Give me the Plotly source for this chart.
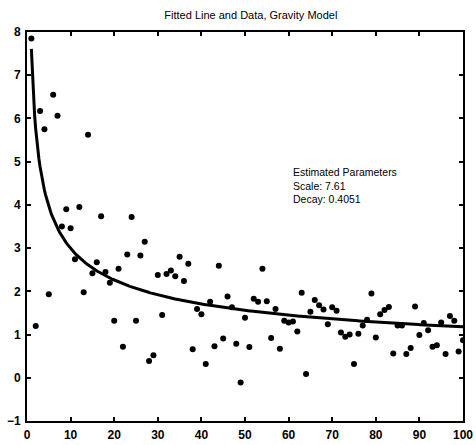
import numpy as np
import plotly.graph_objects as go

# Observed data (distance index vs value)
x_data = list(range(1, 101))
y_data = [
    7.85, 1.20, 6.17, 5.75, 1.93, 6.55, 6.06, 3.50, 3.90, 3.46,
    2.74, 3.95, 1.98, 5.62, 2.42, 2.67, 3.74, 2.45, 2.20, 1.32,
    2.52, 0.72, 2.85, 3.72, 1.32, 2.83, 3.15, 0.39, 0.52, 2.38,
    1.45, 2.40, 2.48, 2.35, 2.80, 2.24, 2.64, 0.66, 1.59, 1.47,
    0.32, 1.76, 0.73, 2.59, 0.91, 1.88, 1.63, 0.79, -0.11, 1.39,
    0.71, 1.83, 1.76, 2.52, 1.77, 0.92, 1.59, 0.67, 1.32, 1.28,
    1.30, 1.07, 1.97, 0.09, 1.53, 1.80, 1.68, 1.58, 1.24, 1.63,
    1.55, 1.05, 0.95, 1.00, 0.32, 1.02, 1.21, 1.34, 1.95, 0.93,
    1.47, 1.57, 1.64, 0.56, 1.21, 1.21, 0.55, 0.69, 1.65, 0.99,
    1.27, 1.10, 0.72, 0.75, 1.28, 0.55, 1.43, 1.32, 0.61, 0.87,
]

# Fitted gravity model parameters
scale = 7.61
decay = 0.4051

x_tick_vals = [0, 10, 20, 30, 40, 50, 60, 70, 80, 90, 100]
y_tick_vals = [-1, 0, 1, 2, 3, 4, 5, 6, 7, 8]

x_fit = np.linspace(1, 100, 400)
y_fit = scale * x_fit ** (-decay)

fig = go.Figure()
fig.add_trace(go.Scatter(
    x=x_fit, y=y_fit, mode="lines",
    line=dict(color="black", width=3), showlegend=False, hoverinfo="skip",
))
fig.add_trace(go.Scatter(
    x=x_data, y=y_data, mode="markers",
    marker=dict(color="black", size=6), showlegend=False,
))

fig.add_annotation(
    x=60.5, y=4.45, xref="x", yref="y",
    text="Estimated Parameters<br>Scale: %s<br>Decay: %s" % (scale, decay),
    showarrow=False, xanchor="left", yanchor="middle", align="left",
    font=dict(family="Liberation Sans, Arial", size=10.5, color="black"),
)

axis_common = dict(
    showgrid=False, zeroline=False, showline=True, linecolor="black",
    linewidth=2, mirror="ticks", ticks="inside", ticklen=4,
    tickcolor="black", tickwidth=1.5, ticklabeloverflow="allow",
    tickfont=dict(family="Liberation Sans, Arial", size=12, color="black", weight="bold"),
)

fig.update_layout(
    width=476, height=445,
    margin=dict(l=27, r=3, t=32, b=17),
    paper_bgcolor="white", plot_bgcolor="white",
    title=dict(
        text="Fitted Line and Data, Gravity Model",
        x=0.527, xanchor="center", y=1 - 15 / 445, yanchor="middle",
        font=dict(family="Liberation Sans, Arial", size=11, color="black"),
    ),
    xaxis=dict(range=[0, 100], tickvals=x_tick_vals, ticklabelstandoff=2, **axis_common),
    yaxis=dict(range=[-1, 8], tickvals=y_tick_vals, ticklabelstandoff=2, **axis_common),
)

fig.write_html("out.html")
